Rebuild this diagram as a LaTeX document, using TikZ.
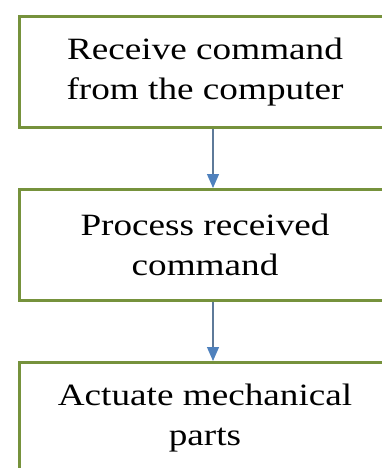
\documentclass[tikz,border=0pt]{standalone}
\usepackage{fontspec}
\setmainfont{Liberation Serif}[FakeStretch=1.2]
\usepackage{tikz}
\usetikzlibrary{arrows.meta, positioning}

\definecolor{boxgreen}{HTML}{76923C}
\definecolor{arrowblue}{HTML}{4F81BD}
\definecolor{linegray}{HTML}{5E7A99}

\begin{document}
\begin{tikzpicture}[
      node distance=59pt,
      every node/.style={font=\fontsize{31}{40}\selectfont},
      box/.style={rectangle, draw=boxgreen, line width=3pt, align=center, minimum width=372pt, minimum height=111pt, inner sep=0pt},
      arrow/.style={draw=linegray, line width=1.2pt, -{Triangle[length=14pt,width=12pt,fill=arrowblue,color=arrowblue]}}
    ]
      \useasboundingbox (0,0) rectangle (381pt,-468pt);
      \node[box] (recv) at (205pt,-72pt) {Receive command\\from the computer};
      \node[box, below=of recv] (proc) {Process received\\command};
      \node[box, below=of proc] (act) {Actuate mechanical\\parts};
      \draw[arrow] ([xshift=8pt]recv.south) -- ([xshift=8pt]proc.north);
      \draw[arrow] ([xshift=8pt]proc.south) -- ([xshift=8pt]act.north);
    \end{tikzpicture}
\end{document}
